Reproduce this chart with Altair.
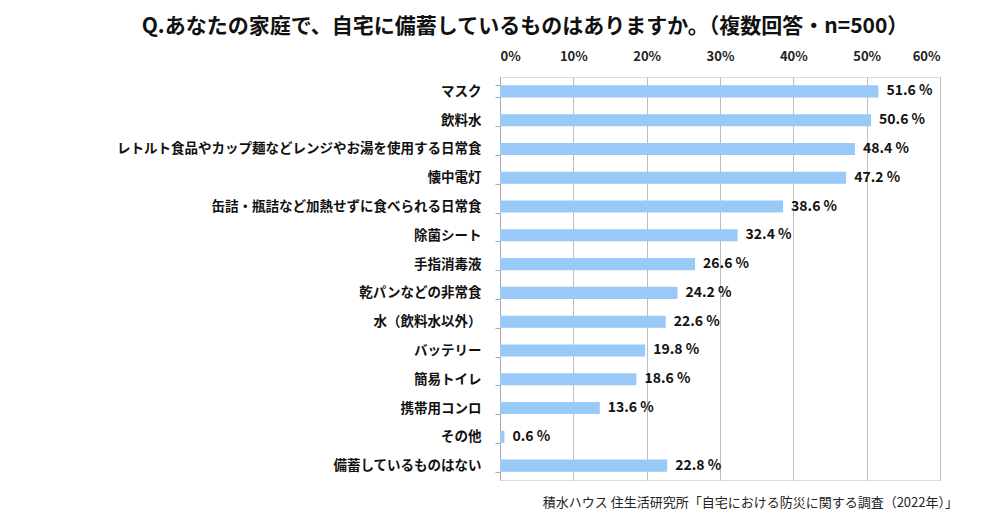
import altair as alt
import pandas as pd

categories = [
    "マスク", "飲料水", "レトルト食品やカップ麺などレンジやお湯を使用する日常食", "懐中電灯",
    "缶詰・瓶詰など加熱せずに食べられる日常食", "除菌シート", "手指消毒液", "乾パンなどの非常食",
    "水（飲料水以外）", "バッテリー", "簡易トイレ", "携帯用コンロ", "その他", "備蓄しているものはない",
]
values = [51.6, 50.6, 48.4, 47.2, 38.6, 32.4, 26.6, 24.2, 22.6, 19.8, 18.6, 13.6, 0.6, 22.8]
tick_values = [0, 10, 20, 30, 40, 50, 60]

title_text = "Q.あなたの家庭で、自宅に備蓄しているものはありますか。（複数回答・n=500）"
source_text = "積水ハウス 住生活研究所「自宅における防災に関する調査（2022年）」"

df = pd.DataFrame({"item": categories, "pct": values})
df["label"] = [f"{v:.1f} %" for v in values]

FONT = "Noto Sans CJK JP"

x_enc = alt.X("pct:Q", scale=alt.Scale(domain=[0, 60]),
              axis=alt.Axis(orient="top", values=tick_values, labelExpr="datum.value + '%'",
                            title=None, grid=True, gridColor="#bdbdbd", ticks=False, domain=False,
                            labelFont=FONT, labelFontSize=13, labelColor="#222222",
                            labelFontWeight="bold", labelPadding=14))
y_enc = alt.Y("item:N", sort=categories, scale=alt.Scale(paddingInner=0.58, paddingOuter=0.29),
              axis=alt.Axis(title=None, labelFont=FONT, labelFontSize=13.5, labelFontWeight="bold",
                            labelColor="#111111", labelPadding=14, tickBand="extent", tickSize=5,
                            tickColor="#aaaaaa", domainColor="#aaaaaa", labelLimit=600))

bars = alt.Chart(df).mark_bar(color="#99c9f7").encode(x=x_enc, y=y_enc)
labels = alt.Chart(df).mark_text(align="left", dx=8, font=FONT, fontSize=14, fontWeight="bold",
                                 color="#111111").encode(x="pct:Q", y=alt.Y("item:N", sort=categories), text="label:N")
source = alt.Chart(pd.DataFrame({"t": [source_text]})).mark_text(
    align="right", baseline="middle", font=FONT, fontSize=13, color="#222222"
).encode(x=alt.value(458), y=alt.value(426), text="t:N")

chart = alt.layer(bars, labels, source).properties(
    width=440, height=403,
    autosize=alt.AutoSizeParams(type="none"),
    padding={"left": 492, "top": 69, "right": 40, "bottom": 30},
    title=alt.TitleParams(title_text, font=FONT, fontSize=21, fontWeight="bold", color="#111111",
                          anchor="middle", dx=-195, offset=13),
).configure_view(stroke="#bdbdbd", strokeWidth=1).configure(background="white")

chart.save("out.html", embed_options={"renderer": "svg", "actions": False})
